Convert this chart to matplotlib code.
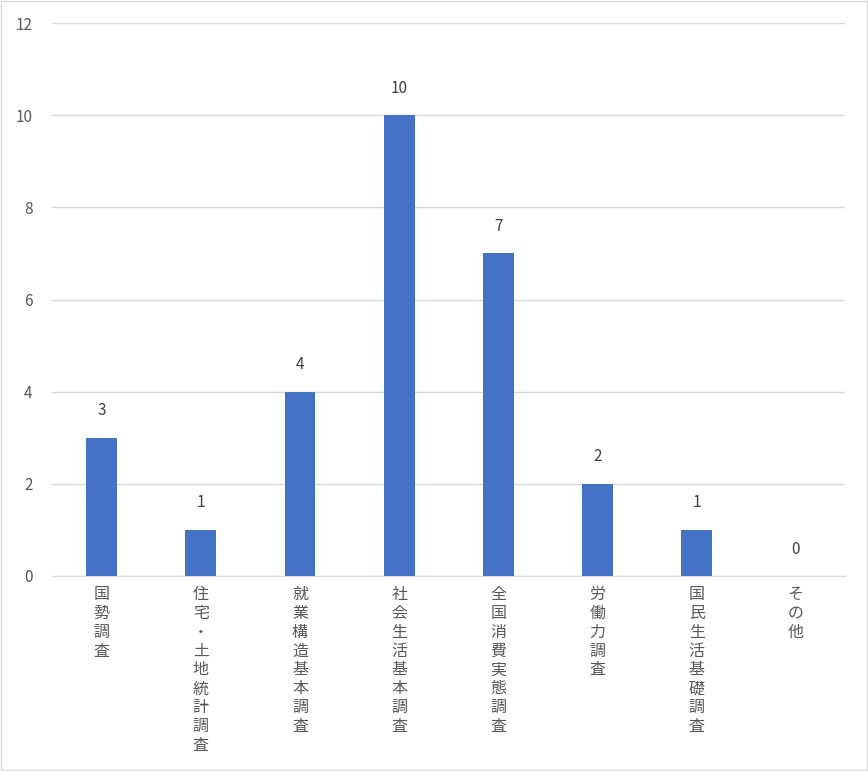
import matplotlib.pyplot as plt
from matplotlib.patches import Rectangle

plt.rcParams['font.family'] = ['Noto Sans CJK JP', 'DejaVu Sans']

categories = ['国勢調査', '住宅・土地統計調査', '就業構造基本調査', '社会生活基本調査',
              '全国消費実態調査', '労働力調査', '国民生活基礎調査', 'その他']
values = [3, 1, 4, 10, 7, 2, 1, 0]
yticks = [0, 2, 4, 6, 8, 10, 12]

fig = plt.figure(figsize=(8.68, 7.71), dpi=100)
ax = fig.add_axes([0.06, 0.253, 0.914, 0.717])

x = range(len(categories))
bars = ax.bar(x, values, width=0.31, color='#4472C4', zorder=3)
for b, v in zip(bars, values):
    ax.text(b.get_x() + b.get_width() / 2, v + 0.4, str(v),
            ha='center', va='bottom', fontsize=11, color='#404040')

ax.set_ylim(0, 12)
ax.set_xlim(-0.5, len(categories) - 0.5)
ax.set_yticks(yticks)
ax.grid(axis='y', color='#D9D9D9', linewidth=1, zorder=0)
for s in ['top', 'right', 'left']:
    ax.spines[s].set_visible(False)
ax.spines['bottom'].set_color('#D9D9D9')
ax.tick_params(axis='both', length=0, labelsize=11, labelcolor='#595959')
ax.tick_params(axis='y', pad=14)
ax.tick_params(axis='x', pad=7)
ax.set_xticks(list(x))
ax.set_xticklabels(['\n'.join(c) for c in categories], va='top',
                   linespacing=1.15, fontsize=11.5)

fig.patches.append(Rectangle((0.001, 0.001), 0.998, 0.998, transform=fig.transFigure,
                             fill=False, edgecolor='#D9D9D9', linewidth=1))
fig.savefig('out.png', dpi=100)
